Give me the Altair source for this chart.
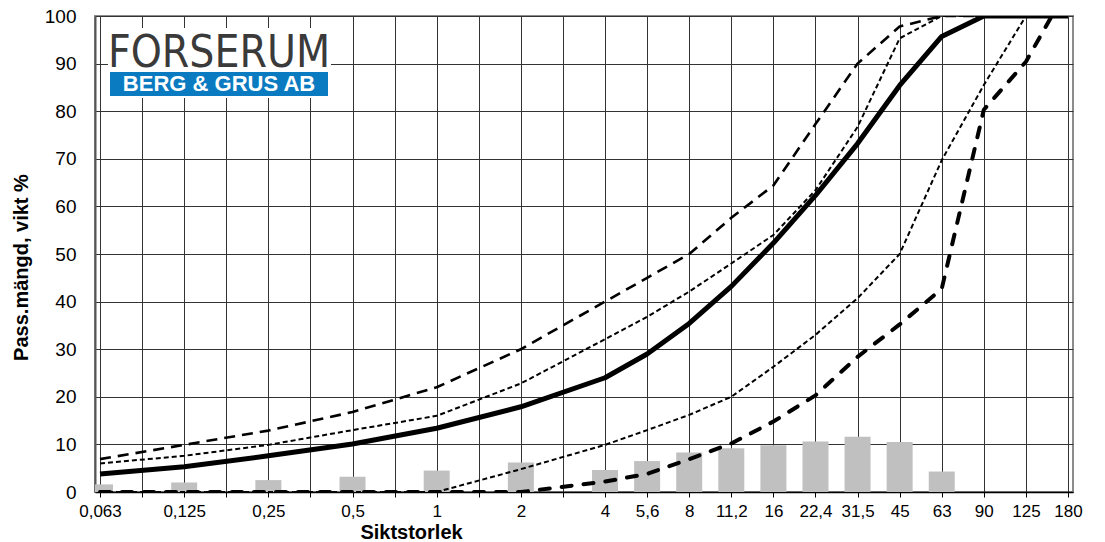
import altair as alt
import pandas as pd

# Category axis (sieve sizes, mm); blank entries are unlabeled grid positions
tick_labels = ["0,063", "", "0,125", "", "0,25", "", "0,5", "", "1", "", "2", "",
               "4", "5,6", "8", "11,2", "16", "22,4", "31,5", "45", "63", "90", "125", "180"]
sieves = [s for s in tick_labels if s]

# Passing percentages (one value per labeled sieve)
main_curve   = [3.8, 5.3, 7.6, 10.1, 13.4, 17.9, 24.0, 29.0, 35.4, 43.2, 52.3, 62.3, 73.2, 85.4, 95.7, 100, 100, 100]
upper_coarse = [6.9, 9.9, 12.9, 16.8, 22.0, 30.0, 40.0, 45.0, 50.0, 57.6, 64.4, 77.3, 90.0, 97.8, 100, 100, 100, 100]
upper_fine   = [6.0, 7.6, 9.9, 13.0, 16.0, 22.8, 32.1, 36.8, 42.1, 48.0, 54.0, 63.4, 76.7, 95.3, 100, 100, 100, 100]
lower_fine   = [0, 0, 0, 0, 0, 4.8, 9.9, 13.0, 16.2, 20.0, 26.3, 33.0, 40.7, 50.0, 69.7, 85.5, 100, 100]
lower_coarse = [0, 0, 0, 0, 0, 0, 2.2, 3.8, 6.9, 10.2, 14.8, 20.3, 28.4, 35.2, 42.7, 80.3, 90.4, 106]
# Retained fraction per sieve (grey bars)
bar_values   = [1.6, 2.0, 2.5, 3.2, 4.5, 6.2, 4.6, 6.5, 8.3, 9.2, 9.8, 10.6, 11.6, 10.5, 4.3, None, None, None]

pos = [tick_labels.index(s) for s in sieves]


def frame(vals):
    return pd.DataFrame([{"sieve": s, "pos": p, "value": v}
                         for s, p, v in zip(sieves, pos, vals) if v is not None])


FONT = "Liberation Sans"
label_js = "[" + ",".join("'" + t + "'" for t in tick_labels) + "][datum.value]"

X = alt.X("pos:Q",
          scale=alt.Scale(domain=[0, len(tick_labels) - 1], nice=False, zero=False),
          axis=alt.Axis(values=list(range(len(tick_labels))), labelExpr=label_js,
                        title="Siktstorlek", titleFont=FONT, titleFontSize=20, titleFontWeight="bold",
                        titleColor="black", titleX=316, titleY=40, titleAlign="center",
                        titleBaseline="middle",
                        labelFont=FONT, labelFontSize=17, labelColor="black", labelPadding=6,
                        labelOverlap=False, labelFlush=False,
                        ticks=True, tickSize=5, tickColor="black", tickWidth=1,
                        domainColor="black", domainWidth=1.5,
                        grid=True, gridColor="#333333", gridWidth=1))
Y = alt.Y("value:Q",
          scale=alt.Scale(domain=[0, 100], nice=False),
          axis=alt.Axis(values=list(range(0, 101, 10)),
                        title="Pass.mängd, vikt %", titleFont=FONT, titleFontSize=20,
                        titleFontWeight="bold", titleColor="black", titleX=-74, titleY=251,
                        titleAngle=270, titleAlign="center", titleBaseline="middle",
                        labelFont=FONT, labelFontSize=19, labelColor="black", labelPadding=19,
                        ticks=False, domainColor="#555555", domainWidth=2,
                        grid=True, gridColor="#333333", gridWidth=1))

bars = alt.Chart(frame(bar_values)).mark_bar(size=26, color="#c0c0c0", clip=True).encode(x=X, y=Y)


def line(vals, width, dash=None, cap="butt"):
    kw = dict(color="black", strokeWidth=width, clip=True, strokeCap=cap, strokeJoin="round")
    if dash:
        kw["strokeDash"] = dash
    return alt.Chart(frame(vals)).mark_line(**kw).encode(x=X, y=Y, order="pos:Q")


l_upper_fine = line(upper_fine, 2, [5, 3])
l_lower_fine = line(lower_fine, 2, [5, 3])
l_upper_coarse = line(upper_coarse, 2.6, [11, 7])
l_lower_coarse = line(lower_coarse, 4, [10, 12], cap="round")
l_main = line(main_curve, 5)

one = pd.DataFrame({"k": [0]})
logo_bg = alt.Chart(one).mark_rect(color="white").encode(
    x=alt.value(13), x2=alt.value(236), y=alt.value(12), y2=alt.value(82))
logo_box = alt.Chart(one).mark_rect(color="#0b7bc1").encode(
    x=alt.value(15), x2=alt.value(233), y=alt.value(56), y2=alt.value(80))
logo_name = alt.Chart(one).mark_text(
    text="FORSERUM", font="Liberation Sans Narrow, DejaVu Sans Condensed, Liberation Sans",
    fontSize=44, color="#3a3a3a", align="center", baseline="alphabetic").encode(
    x=alt.value(124), y=alt.value(51))
logo_sub = alt.Chart(one).mark_text(
    text="BERG & GRUS AB", font=FONT, fontWeight="bold",
    fontSize=22, color="white", align="center", baseline="alphabetic").encode(
    x=alt.value(124), y=alt.value(75))

chart = alt.layer(
    bars, l_lower_fine, l_upper_fine, l_upper_coarse, l_lower_coarse, l_main,
    logo_bg, logo_box, logo_name, logo_sub
).properties(
    width=978, height=476,
    padding={"left": 87, "top": 8, "right": 22, "bottom": 50},
    autosize=alt.AutoSizeParams(type="none"),
).configure_view(stroke="#8c8c8c", strokeWidth=2)

chart.save("out.html", embed_options={"renderer": "svg", "actions": False})
